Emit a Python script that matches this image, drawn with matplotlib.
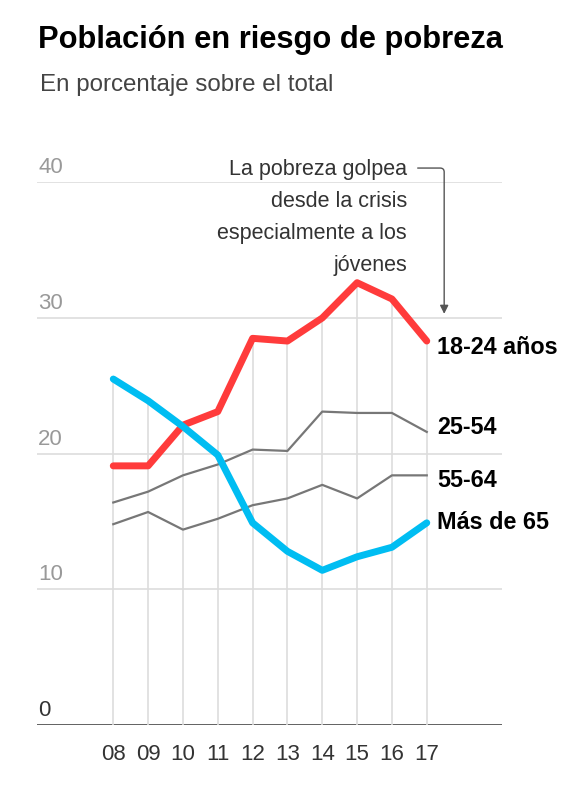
import matplotlib.pyplot as plt

plt.rcParams['font.family'] = ['Liberation Sans', 'DejaVu Sans']

# Data (percent)
years = [8, 9, 10, 11, 12, 13, 14, 15, 16, 17]
year_labels = ["08", "09", "10", "11", "12", "13", "14", "15", "16", "17"]
age_18_24 = [19.1, 19.1, 22.1, 23.1, 28.5, 28.3, 30.0, 32.6, 31.4, 28.3]
age_25_54 = [16.4, 17.2, 18.4, 19.2, 20.3, 20.2, 23.1, 23.0, 23.0, 21.6]
age_55_64 = [14.8, 15.7, 14.4, 15.2, 16.2, 16.7, 17.7, 16.7, 18.4, 18.4]
age_65_plus = [25.5, 23.9, 22.0, 19.9, 14.9, 12.8, 11.4, 12.4, 13.1, 14.9]
y_ticks = [0, 10, 20, 30, 40]

fig = plt.figure(figsize=(5.73, 8.02), dpi=100)
ax = fig.add_axes([37 / 573, 77 / 802, 465 / 573, 542.7 / 802])
ax.set_xlim(5.81, 19.16)
ax.set_ylim(0, 40)
for side in ax.spines.values():
    side.set_visible(False)
ax.set_yticks([])
ax.set_xticks(years)
ax.set_xticklabels(year_labels, fontsize=16, color="#333333")
ax.tick_params(axis="x", length=0, pad=14)

# Horizontal grid and labels
for val in y_ticks:
    if val == 0:
        ax.axhline(0, color="#555555", lw=1.3, zorder=1)
        colour = "#333333"
    else:
        ax.axhline(val, color="#dddddd", lw=1.2, zorder=1)
        colour = "#999999"
    ax.text(5.84, val + 0.3, str(val), fontsize=16, color=colour,
            ha="left", va="bottom")

# Drop lines from the highest value of each year
tops = [max(vals) for vals in zip(age_18_24, age_25_54, age_55_64, age_65_plus)]
ax.vlines(years, 0, tops, color="#dddddd", lw=1.2, zorder=1)

ax.plot(years, age_25_54, color="#777777", lw=1.6, zorder=3)
ax.plot(years, age_55_64, color="#777777", lw=1.6, zorder=3)
ax.plot(years, age_18_24, color="#ff3b3b", lw=5, zorder=4,
        solid_capstyle="round", solid_joinstyle="round")
ax.plot(years, age_65_plus, color="#00bdf2", lw=5, zorder=4,
        solid_capstyle="round", solid_joinstyle="round")

# Series labels
labels = ["18-24 años", "25-54", "55-64", "Más de 65"]
label_y = [27.8, 21.9, 18.05, 14.9]
for text, y in zip(labels, label_y):
    ax.text(17.3, y, text, fontsize=16.8, fontweight="bold", color="black",
            ha="left", va="center")

# Annotation
note = "La pobreza golpea\ndesde la crisis\nespecialmente a los\njóvenes"
fig.text(407 / 573, 1 - 159 / 802, note, fontsize=15.5, color="#333333",
         ha="right", va="top", linespacing=1.68)
ax.annotate("", xy=(17.5, 30.1), xytext=(16.66, 41.05),
            arrowprops=dict(arrowstyle="-|>,head_length=0.5,head_width=0.25",
                            color="#555555", lw=1,
                            connectionstyle="angle,angleA=0,angleB=90,rad=4"),
            annotation_clip=False)

fig.text(38 / 573, 1 - 40 / 802, "Población en riesgo de pobreza",
         fontsize=22.2, fontweight="bold", color="black", ha="left", va="center")
fig.text(40 / 573, 1 - 85 / 802, "En porcentaje sobre el total",
         fontsize=17.4, color="#444444", ha="left", va="center")

fig.savefig("out.png", dpi=100)
